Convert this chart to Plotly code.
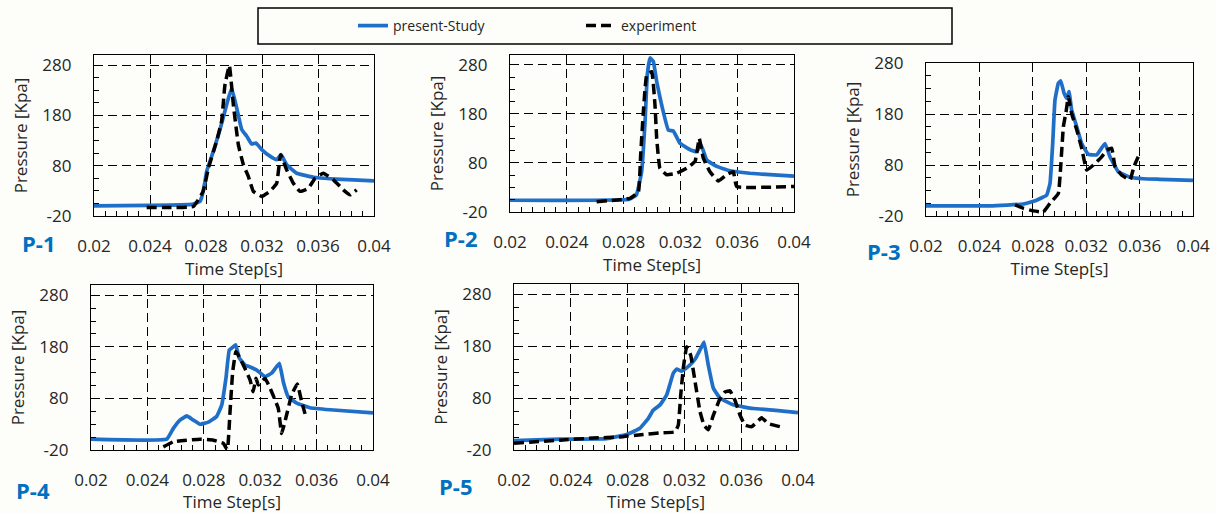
import plotly.graph_objects as go

# ---- axis ticks -------------------------------------------------------
x_ticks = [0.02, 0.024, 0.028, 0.032, 0.036, 0.04]
x_tick_labels = ["0.02", "0.024", "0.028", "0.032", "0.036", "0.04"]
y_ticks = [-20, 80, 180, 280]
y_tick_labels = ["-20", "80", "180", "280"]

panel_names = ["P-1", "P-2", "P-3", "P-4", "P-5"]

# ---- P-1 --------------------------------------------------------------
p1_sim_t = [0.020, 0.024, 0.0270, 0.02757, 0.0277, 0.02793, 0.02805, 0.02852, 0.0290, 0.02948,
            0.02983, 0.03019, 0.03055, 0.0309, 0.03126, 0.03157, 0.03198, 0.03257, 0.03305,
            0.03336, 0.03376, 0.03448, 0.03567, 0.03686, 0.03852, 0.040]
p1_sim_p = [0, 1, 3, 9, 18, 49, 69, 108, 152, 202,
            234, 195, 152, 139, 123, 125, 112, 99, 92,
            102, 82, 65, 57, 54, 52, 50]
p1_exp_t = [0.02376, 0.0255, 0.0271, 0.0278, 0.02817, 0.02876, 0.02912, 0.02935, 0.02967,
            0.02995, 0.03031, 0.03067, 0.03102, 0.03138, 0.03198, 0.03257, 0.03305, 0.03333,
            0.03376, 0.03424, 0.03471, 0.03531, 0.03579, 0.03638, 0.0371, 0.03781, 0.03829,
            0.03876]
p1_exp_p = [-3, -3, -1, 29, 75, 129, 169, 240, 279,
            202, 122, 82, 59, 29, 19, 29, 45, 102,
            72, 45, 29, 35, 55, 65, 52, 32, 22,
            32]

# ---- P-2 --------------------------------------------------------------
p2_sim_t = [0.020, 0.0284, 0.0289, 0.02927, 0.02951, 0.02967, 0.02986, 0.03009, 0.03033,
            0.03068, 0.03115, 0.0315, 0.03197, 0.03268, 0.03315, 0.03345, 0.03385, 0.03456,
            0.03549, 0.0369, 0.03831, 0.040]
p2_sim_p = [4, 6, 15, 62, 164, 260, 294, 287, 246,
            198, 147, 145, 120, 107, 103, 117, 86, 73,
            64, 59, 56, 53]
p2_exp_t = [0.0261, 0.02845, 0.02904, 0.0292, 0.02939, 0.02963, 0.02998, 0.03021, 0.03033,
            0.03056, 0.03103, 0.03174, 0.03244, 0.03303, 0.03333, 0.03361, 0.03408, 0.03467,
            0.03526, 0.03573, 0.03596, 0.040]
p2_exp_p = [1, 8, 21, 96, 184, 260, 266, 198, 130,
            69, 56, 59, 69, 83, 130, 90, 62, 43,
            56, 62, 32, 32]

# ---- P-3 --------------------------------------------------------------
p3_sim_t = [0.020, 0.02479, 0.02729, 0.02829, 0.02904, 0.02929, 0.02949, 0.02966, 0.02991,
            0.03009, 0.03034, 0.03054, 0.03071, 0.03091, 0.03129, 0.03166, 0.03216, 0.03279,
            0.03341, 0.03378, 0.0344, 0.03528, 0.03628, 0.03753, 0.040]
p3_sim_p = [0, 0, 3.5, 11, 21, 44, 122, 207, 240,
            245, 221, 211, 224, 188, 155, 122, 101, 100,
            122, 96, 67, 56, 53, 52, 50]
p3_exp_t = [0.02667, 0.02729, 0.02804, 0.02879, 0.02929, 0.02991, 0.03009, 0.03029, 0.03049,
            0.03066, 0.03091, 0.03129, 0.03166, 0.03204, 0.03254, 0.03316, 0.03354, 0.03391,
            0.03416, 0.03466, 0.03528, 0.03558, 0.0359]
p3_exp_p = [2, -5, -10, -12, 5, 24, 77, 155, 184,
            214, 181, 149, 113, 70, 80, 96, 109, 113,
            77, 60, 51, 77, 96]

# ---- P-4 --------------------------------------------------------------
p4_sim_t = [0.020, 0.02537, 0.02584, 0.02631, 0.02679, 0.02726, 0.02773, 0.02832, 0.02891,
            0.02927, 0.02957, 0.02981, 0.03009, 0.03026, 0.03052, 0.03092, 0.03128, 0.03175,
            0.03234, 0.03281, 0.03336, 0.03364, 0.03399, 0.03459, 0.03553, 0.03695, 0.040]
p4_sim_p = [1, 1, 22, 38, 46, 38, 30, 34, 45,
            67, 119, 174, 180, 184, 158, 145, 141, 135,
            122, 129, 148, 112, 83, 71, 62, 58, 52]
p4_exp_t = [0.02513, 0.02584, 0.02679, 0.02773, 0.02868, 0.02939, 0.02967, 0.02986, 0.03005,
            0.03028, 0.03057, 0.03092, 0.03128, 0.0315, 0.0317, 0.03187, 0.03234, 0.03281,
            0.03328, 0.03352, 0.03381, 0.03423, 0.03463, 0.03494, 0.03518]
p4_exp_p = [-14, -4, -1, 1, -1, -7, -20, 54, 132,
            171, 158, 138, 116, 93, 119, 106, 119, 93,
            61, 12, 41, 87, 108, 74, 50]

# ---- P-5 --------------------------------------------------------------
p5_sim_t = [0.020, 0.02324, 0.02653, 0.02794, 0.02887, 0.02946, 0.02981, 0.03028, 0.03075,
            0.03122, 0.03146, 0.03181, 0.03228, 0.03275, 0.0331, 0.03338, 0.03368, 0.03404,
            0.03451, 0.03544, 0.03685, 0.03826, 0.040]
p5_sim_p = [-2, 1, 2, 10, 22, 41, 57, 67, 86,
            128, 136, 132, 141, 155, 173, 188, 144, 99,
            80, 67, 60, 57, 52]
p5_exp_t = [0.020, 0.02324, 0.02559, 0.02746, 0.02911, 0.03028, 0.03134, 0.03157, 0.03174,
            0.03192, 0.03216, 0.03244, 0.03275, 0.0331, 0.03338, 0.03368, 0.03404, 0.03446,
            0.03486, 0.03521, 0.03556, 0.03592, 0.03627, 0.03674, 0.03744, 0.03791, 0.03873]
p5_exp_p = [-7, -1, 3, 5, 10, 13, 15, 28, 86,
            137, 179, 163, 112, 54, 28, 19, 47, 76,
            92, 94, 76, 47, 28, 25, 42, 31, 25]

sim_series = [(p1_sim_t, p1_sim_p), (p2_sim_t, p2_sim_p), (p3_sim_t, p3_sim_p),
              (p4_sim_t, p4_sim_p), (p5_sim_t, p5_sim_p)]
exp_series = [(p1_exp_t, p1_exp_p), (p2_exp_t, p2_exp_p), (p3_exp_t, p3_exp_p),
              (p4_exp_t, p4_exp_p), (p5_exp_t, p5_exp_p)]

# ---- layout geometry (pixels in a 1216 x 513 canvas) ------------------
W, H = 1216, 513
# plot-area boxes: left, right, top, bottom
boxes = [(94, 374, 55, 216), (510, 794, 55, 212), (926, 1193, 63, 216),
         (91, 373, 285, 450), (514, 798, 284, 450)]
y_tops = [300, 300, 280, 300, 300]
# panel label centres
label_pos = [(38, 243), (460, 238), (883, 251), (33, 490), (455, 486)]

BLUE = "#1f6fc9"
LABEL_BLUE = "#0070C0"
BG = "#fdfdf9"
FONT = "Open Sans"
TXT = "#262626"

fig = go.Figure()

for i in range(5):
    xa = "x" if i == 0 else f"x{i+1}"
    ya = "y" if i == 0 else f"y{i+1}"
    st, sp = sim_series[i]
    et, ep = exp_series[i]
    fig.add_trace(go.Scatter(x=st, y=sp, mode="lines", name="present-Study",
                             legendgroup="sim", showlegend=(i == 0),
                             line=dict(color=BLUE, width=3.7, shape="spline", smoothing=0.3),
                             xaxis=xa, yaxis=ya))
    fig.add_trace(go.Scatter(x=et, y=ep, mode="lines", name="experiment",
                             legendgroup="exp", showlegend=(i == 0),
                             line=dict(color="black", width=3.5, dash="10px,5px",
                                       shape="spline", smoothing=0.3),
                             xaxis=xa, yaxis=ya))

tick_font = dict(family=FONT, size=17, color=TXT)
title_font = dict(family=FONT, size=17, color=TXT)
for i, (l, r, t, b) in enumerate(boxes):
    sfx = "" if i == 0 else str(i + 1)
    fig.layout[f"xaxis{sfx}"] = dict(
        domain=[l / W, r / W], anchor=f"y{sfx}", range=[0.02, 0.04], automargin=False,
        tickmode="array", tickvals=x_ticks, ticktext=x_tick_labels,
        ticks="inside", ticklen=5, tickcolor="black", tickwidth=1,
        ticklabelstandoff=14, tickfont=tick_font,
        showgrid=True, gridcolor="black", gridwidth=1.3, griddash="9px,5px",
        showline=True, linecolor="black", linewidth=1.3, mirror=True,
        zeroline=False,
        minor=dict(ticks="inside", tick0=0.02, dtick=0.0008, ticklen=5,
                   tickcolor="black", tickwidth=1, showgrid=False),
        title=dict(text="Time Step[s]", font=title_font, standoff=1),
    )
    fig.layout[f"yaxis{sfx}"] = dict(
        domain=[1 - b / H, 1 - t / H], anchor=f"x{sfx}", range=[-20, y_tops[i]], automargin=False,
        tickmode="array", tickvals=y_ticks, ticktext=y_tick_labels,
        ticks="inside", ticklen=5, tickcolor="black", tickwidth=1,
        ticklabelstandoff=18, tickfont=tick_font,
        showgrid=True, gridcolor="black", gridwidth=1.3, griddash="9px,5px",
        showline=True, linecolor="black", linewidth=1.3, mirror=True,
        zeroline=False,
        minor=dict(ticks="inside", tick0=-20, dtick=25, ticklen=5,
                   tickcolor="black", tickwidth=1, showgrid=False),
        title=dict(text="Pressure [Kpa]", font=title_font, standoff=10),
    )

for name, (cx, cy) in zip(panel_names, label_pos):
    fig.add_annotation(x=cx / W, y=1 - cy / H, xref="paper", yref="paper",
                       xanchor="center", yanchor="middle",
                       text=f"<b>{name}</b>", showarrow=False,
                       font=dict(family=FONT, size=22, color=LABEL_BLUE))

# legend frame
fig.add_shape(type="rect", xref="paper", yref="paper",
              x0=258 / W, x1=952 / W, y0=1 - 44 / H, y1=1 - 8 / H,
              line=dict(color="black", width=1.5), fillcolor=BG, layer="below")

fig.update_layout(
    width=W, height=H, margin=dict(l=0, r=0, t=0, b=0, autoexpand=False),
    paper_bgcolor=BG, plot_bgcolor=BG,
    font=dict(family=FONT, size=16, color=TXT),
    legend=dict(orientation="h", x=353 / W, y=1 - 26 / H, xanchor="left", yanchor="middle",
                bgcolor="rgba(0,0,0,0)", borderwidth=0,
                font=dict(family=FONT, size=14, color=TXT),
                entrywidth=183, entrywidthmode="pixels"),
)

fig.write_html("out.html")
